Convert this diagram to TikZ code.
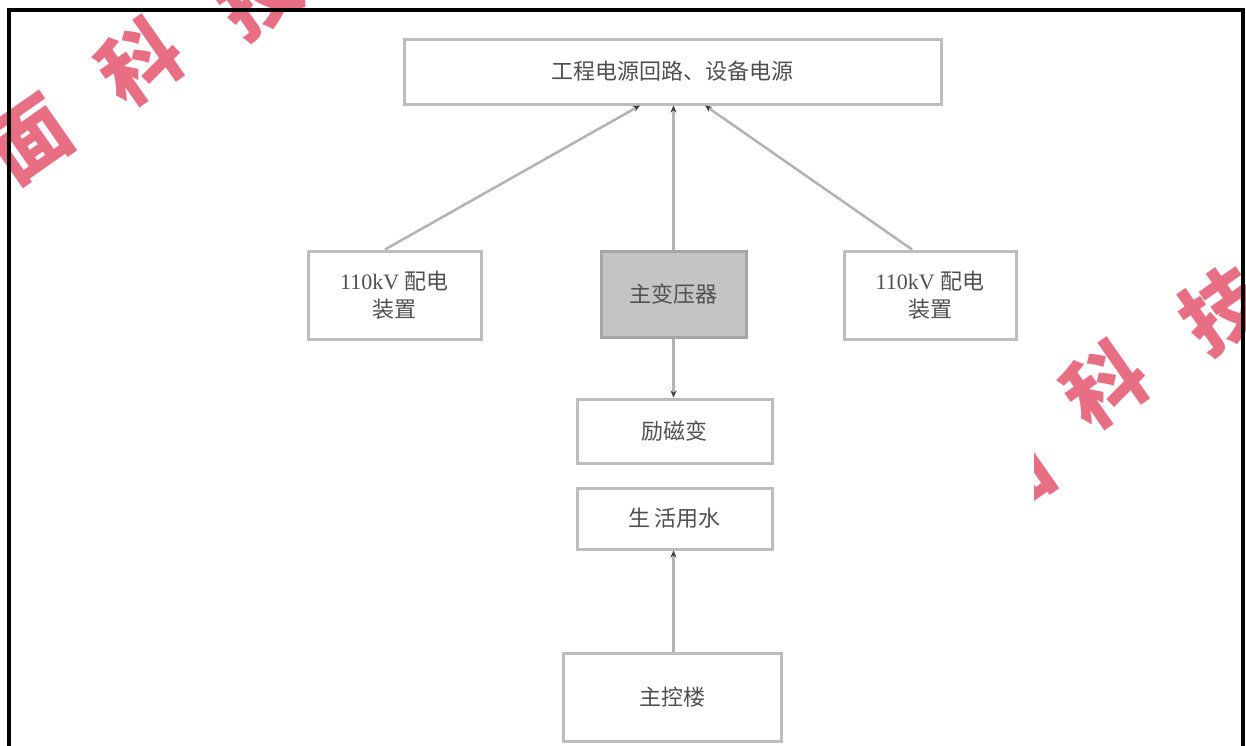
\documentclass[tikz,border=0pt]{standalone}
\usepackage{fontspec}
\setmainfont{Liberation Serif}
\newfontfamily\cjk{Noto Sans CJK SC}
\usetikzlibrary{arrows.meta}
\definecolor{boxline}{HTML}{BDBDBD}
\definecolor{graybox}{HTML}{C4C4C4}
\definecolor{grayline}{HTML}{A6A6A6}
\definecolor{txt}{HTML}{505050}
\definecolor{wm}{HTML}{E5566E}
\tikzset{
  box/.style={draw=boxline, line width=3pt, fill=white, text=txt, font=\cjk\fontsize{22}{28}\selectfont, align=center, inner sep=0pt},
  darkbox/.style={box, fill=graybox, draw=grayline},
  conn/.style={draw=grayline!85, line width=2.5pt, -{Stealth[length=7pt,width=6pt,color=black!75]}},
  wmark/.style={text=wm, opacity=0.85, font=\cjk\fontsize{80}{80}\selectfont\bfseries, rotate=35}
}
\begin{document}
\begin{tikzpicture}[x=1pt,y=-1pt]
\useasboundingbox (0,0) rectangle (1246,745);
\clip (0,0) rectangle (1246,745);
\fill[white] (0,0) rectangle (1246,745);
% watermark
\node[wmark] (w1) at (30,140) {面};
\node[wmark] (w2) at (140,62) {科};
\node[wmark] (w3) at (258,-5) {技};
\node[wmark] (w4) at (1105,385) {科};
\node[wmark] (w5) at (1222,310) {技};
\node[wmark] (w6) at (1012,478) {面};
\fill[white] (880,420) rectangle (1034,600);
% frame
\draw[black, line width=4pt] (9,760) -- (9,10) -- (1243,10) -- (1243,760);
% nodes
\node[box, minimum width=537pt, minimum height=65pt] (top) at (672.5,71.5) {工程电源回路、设备电源};
\node[box, minimum width=173pt, minimum height=88pt] (left) at (394.5,295) {\rmfamily 110kV\ \cjk 配电\\装置};
\node[darkbox, minimum width=145pt, minimum height=86pt] (main) at (673.5,294) {主变压器};
\node[box, minimum width=172pt, minimum height=88pt] (right) at (930,295) {\rmfamily 110kV\ \cjk 配电\\装置};
\node[box, minimum width=195pt, minimum height=64pt] (b3) at (674.5,431) {励磁变};
\node[box, minimum width=195pt, minimum height=61pt] (b4) at (674.5,518.5) {生 活用水};
\node[box, minimum width=218pt, minimum height=88pt] (b5) at (672,697) {主控楼};
% connectors
\draw[conn] (left.north -| 385,0) -- (top.south -| 640,0);
\draw[conn] (main.north) -- (top.south -| main.north);
\draw[conn] (right.north -| 912,0) -- (top.south -| 705,0);
\draw[conn] (main.south) -- (b3.north -| main.south);
\draw[conn] (b5.north -| main.south) -- (b4.south -| main.south);
\end{tikzpicture}
\end{document}
